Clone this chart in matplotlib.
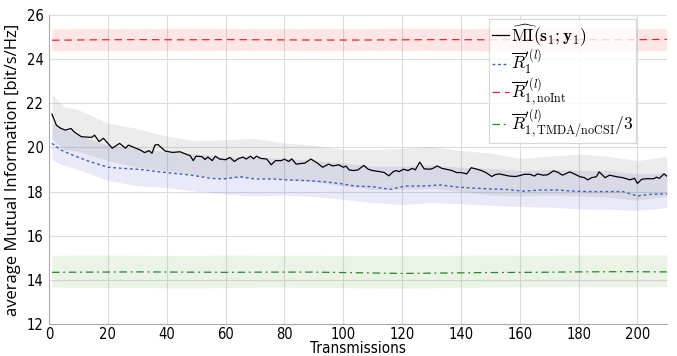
import numpy as np
import matplotlib
matplotlib.use('Agg')
import matplotlib.pyplot as plt

plt.rcParams['mathtext.fontset'] = 'cm'

# estimated MI (black, solid)
mi_t = [1, 2.5, 4, 5.5, 7.5, 8.5, 11, 14.5, 15.5, 17, 18.5, 21.5, 24, 26, 27, 31, 32.5, 34, 35, 36,
        37, 39.5, 42, 44.5, 48, 49, 50, 52, 53, 54, 55.5, 56.5, 58, 60, 61.5, 63, 64.5, 66, 67, 68.5,
        69.5, 70.5, 72, 74, 75.5, 77, 79, 80, 81.5, 82.5, 84, 87, 89, 91, 93, 95, 96.5, 98.5, 100, 101,
        102, 103.5, 105, 107, 108.5, 110, 112.5, 114, 115.5, 117, 118, 119, 120.5, 122, 123.5, 124.5, 126, 127.5, 129.5, 130.5,
        132, 133.5, 135, 137, 138.5, 140, 142, 143.5, 145.5, 147, 148.5, 150.5, 151.5, 153, 155, 156.5, 158.5, 160, 161.5, 163.5,
        165, 166, 168, 169.5, 171.5, 173, 174.5, 177, 178.5, 180.5, 182, 183, 184.5, 186, 187, 189, 190.5, 193,
        195, 197.5, 199, 200, 201.5, 203, 205.5, 206.5, 207.5, 209, 210]
mi_v = [21.5, 21.0, 20.86, 20.78, 20.85, 20.7, 20.48, 20.45, 20.55, 20.26, 20.41, 19.96, 20.18, 19.96, 20.1, 19.88, 19.76, 19.85, 19.73, 20.1,
        20.13, 19.83, 19.77, 19.8, 19.62, 19.4, 19.6, 19.58, 19.45, 19.56, 19.4, 19.6, 19.47, 19.44, 19.54, 19.36, 19.5, 19.56, 19.47, 19.6,
        19.48, 19.6, 19.5, 19.47, 19.21, 19.4, 19.4, 19.47, 19.36, 19.48, 19.24, 19.29, 19.47, 19.31, 19.1, 19.24, 19.16, 19.21, 19.1, 19.15,
        18.98, 18.95, 18.98, 19.18, 19.01, 18.95, 18.9, 18.86, 18.71, 18.9, 18.95, 18.9, 19.01, 18.95, 19.05, 18.98, 19.33, 19.03, 19.01, 19.05,
        19.16, 19.05, 19.01, 18.95, 18.86, 18.86, 18.8, 19.08, 19.01, 18.95, 18.86, 18.68, 18.76, 18.8, 18.74, 18.7, 18.68, 18.72, 18.78, 18.78,
        18.7, 18.8, 18.74, 18.76, 18.94, 18.87, 18.74, 18.89, 18.8, 18.67, 18.63, 18.53, 18.63, 18.67, 18.89, 18.63, 18.74, 18.67,
        18.63, 18.53, 18.6, 18.37, 18.56, 18.58, 18.58, 18.65, 18.6, 18.8, 18.7]

# R1 (blue, dotted)
r1_t = [1, 4, 8, 14, 20, 25, 31, 37, 42, 48, 55, 59, 65, 70, 76, 82, 87, 93, 99, 104,
        110, 116, 121, 127, 133, 139, 144, 150, 155, 161, 167, 173, 178, 184, 190, 195, 200, 204, 210]
r1_v = [20.18, 19.88, 19.65, 19.35, 19.1, 19.05, 19.0, 18.9, 18.83, 18.75, 18.6, 18.57, 18.67, 18.57, 18.57, 18.52, 18.5, 18.45, 18.36, 18.25,
        18.22, 18.1, 18.25, 18.25, 18.3, 18.2, 18.16, 18.12, 18.1, 18.02, 18.07, 18.07, 18.02, 18.0, 18.0, 18.0, 17.8, 17.87, 17.9]

# R1 noInt (red, dashed) and TMDA/noCSI / 3 (green, dash-dot)
flat_t = [1, 15, 30, 45, 60, 75, 90, 105, 120, 135, 150, 165, 180, 195, 210]
noint_v = [24.84, 24.86, 24.87, 24.86, 24.87, 24.86, 24.85, 24.85, 24.86, 24.87, 24.86, 24.87, 24.87, 24.86, 24.88]
noint_hi = [25.36, 25.38, 25.37, 25.39, 25.38, 25.37, 25.38, 25.37, 25.39, 25.38, 25.37, 25.38, 25.39, 25.38, 25.37]
noint_lo = [24.36, 24.37, 24.36, 24.38, 24.37, 24.38, 24.36, 24.37, 24.38, 24.37, 24.36, 24.38, 24.37, 24.36, 24.37]
tmda_v = [14.35, 14.36, 14.37, 14.36, 14.35, 14.36, 14.36, 14.33, 14.30, 14.32, 14.34, 14.35, 14.37, 14.38, 14.37]
tmda_hi = [15.12, 15.13, 15.12, 15.11, 15.13, 15.12, 15.12, 15.11, 15.1, 15.12, 15.13, 15.12, 15.13, 15.14, 15.14]
tmda_lo = [13.68, 13.66, 13.67, 13.64, 13.66, 13.68, 13.67, 13.65, 13.63, 13.66, 13.68, 13.69, 13.7, 13.69, 13.7]

# spread bands for MI and R1
band_t = [1, 5, 10, 20, 30, 40, 50, 60, 70, 80, 90, 100, 110, 120, 130, 140, 150, 160, 170, 180, 190, 200, 210]
mi_hi = [22.4, 21.85, 21.7, 21.1, 20.85, 20.5, 20.3, 20.35, 20.4, 20.2, 20.1, 19.9, 19.9, 19.95, 20.05, 19.85, 19.75, 19.5, 19.6, 19.7, 19.6, 19.4, 19.6]
mi_lo = [20.4, 19.9, 19.8, 19.4, 19.1, 18.95, 18.75, 18.6, 18.65, 18.55, 18.45, 18.25, 18.1, 18.1, 18.15, 18.0, 17.85, 17.8, 17.85, 17.8, 17.75, 17.6, 17.8]
r1_hi = [21.1, 20.85, 20.55, 20.1, 19.95, 19.8, 19.7, 19.55, 19.55, 19.5, 19.4, 19.3, 19.15, 19.15, 19.2, 19.1, 19.05, 18.95, 19.0, 18.95, 18.95, 18.8, 18.85]
r1_lo = [19.43, 19.2, 19.0, 18.5, 18.27, 18.18, 18.02, 17.88, 17.8, 17.85, 17.77, 17.65, 17.5, 17.42, 17.5, 17.45, 17.38, 17.32, 17.3, 17.22, 17.2, 17.15, 17.28]

xticks = list(range(0, 201, 20))
yticks = list(range(12, 27, 2))


fig = plt.figure(figsize=(6.77, 3.56), dpi=100)
ax = fig.add_axes([0.0724, 0.089, 0.9126, 0.870])

# bands
ax.fill_between(flat_t, noint_lo, noint_hi, color='#ff3838', alpha=0.12, lw=0)
ax.fill_between(flat_t, tmda_lo, tmda_hi, color='#60a040', alpha=0.12, lw=0)
ax.fill_between(band_t, r1_lo, r1_hi, color='#5555cc', alpha=0.13, lw=0)
ax.fill_between(band_t, mi_lo, mi_hi, color='#808080', alpha=0.15, lw=0)

# lines
ax.plot(mi_t, mi_v, color='black', lw=0.9,
        label=r'$\widehat{\mathrm{MI}}(\mathbf{s}_1;\mathbf{y}_1)$')
ax.plot(r1_t, r1_v, color='#3a5fc0', lw=1.0, dashes=(2, 2),
        label=r"$\overline{R}_1^{\prime(l)}$")
ax.plot(flat_t, noint_v, color='#e8262b', lw=0.9, dashes=(6, 4),
        label=r"$\overline{R}_{1,\mathrm{noInt}}^{\prime(l)}$")
ax.plot(flat_t, tmda_v, color='#1f8a2a', lw=0.9, dashes=(6, 3, 1.5, 3),
        label=r"$\overline{R}_{1,\mathrm{TMDA/noCSI}}^{\prime(l)}/3$")

ax.set_xlim(0, 210)
ax.set_ylim(12, 26)
ax.set_xticks(xticks)
ax.set_yticks(yticks)
ax.grid(True, color='#dddddd', lw=0.8)
ax.set_axisbelow(True)
for s in ['top', 'right']:
    ax.spines[s].set_visible(False)
for s in ['left', 'bottom']:
    ax.spines[s].set_color('#aaaaaa')
ax.tick_params(axis='x', length=0, pad=2)
ax.tick_params(axis='y', length=0, pad=4)
for lab in ax.get_xticklabels() + ax.get_yticklabels():
    lab.set_family('DejaVu Sans')
    lab.set_stretch('condensed')
    lab.set_fontsize(10.5)

ax.set_xlabel('Transmissions', family='DejaVu Sans', stretch='condensed', fontsize=11, labelpad=-1)
ax.set_ylabel('average Mutual Information [bit/s/Hz]', family=['Open Sans', 'DejaVu Sans'], fontsize=12, labelpad=4)

leg = ax.legend(loc='upper right', bbox_to_anchor=(0.95, 0.985), borderaxespad=0,
                fancybox=False, edgecolor='#cccccc', fontsize=12.5, handlelength=1.0,
                handletextpad=0.1, labelspacing=0.0, borderpad=0.15)
leg.get_frame().set_linewidth(0.8)

fig.savefig('out.png', dpi=100)
